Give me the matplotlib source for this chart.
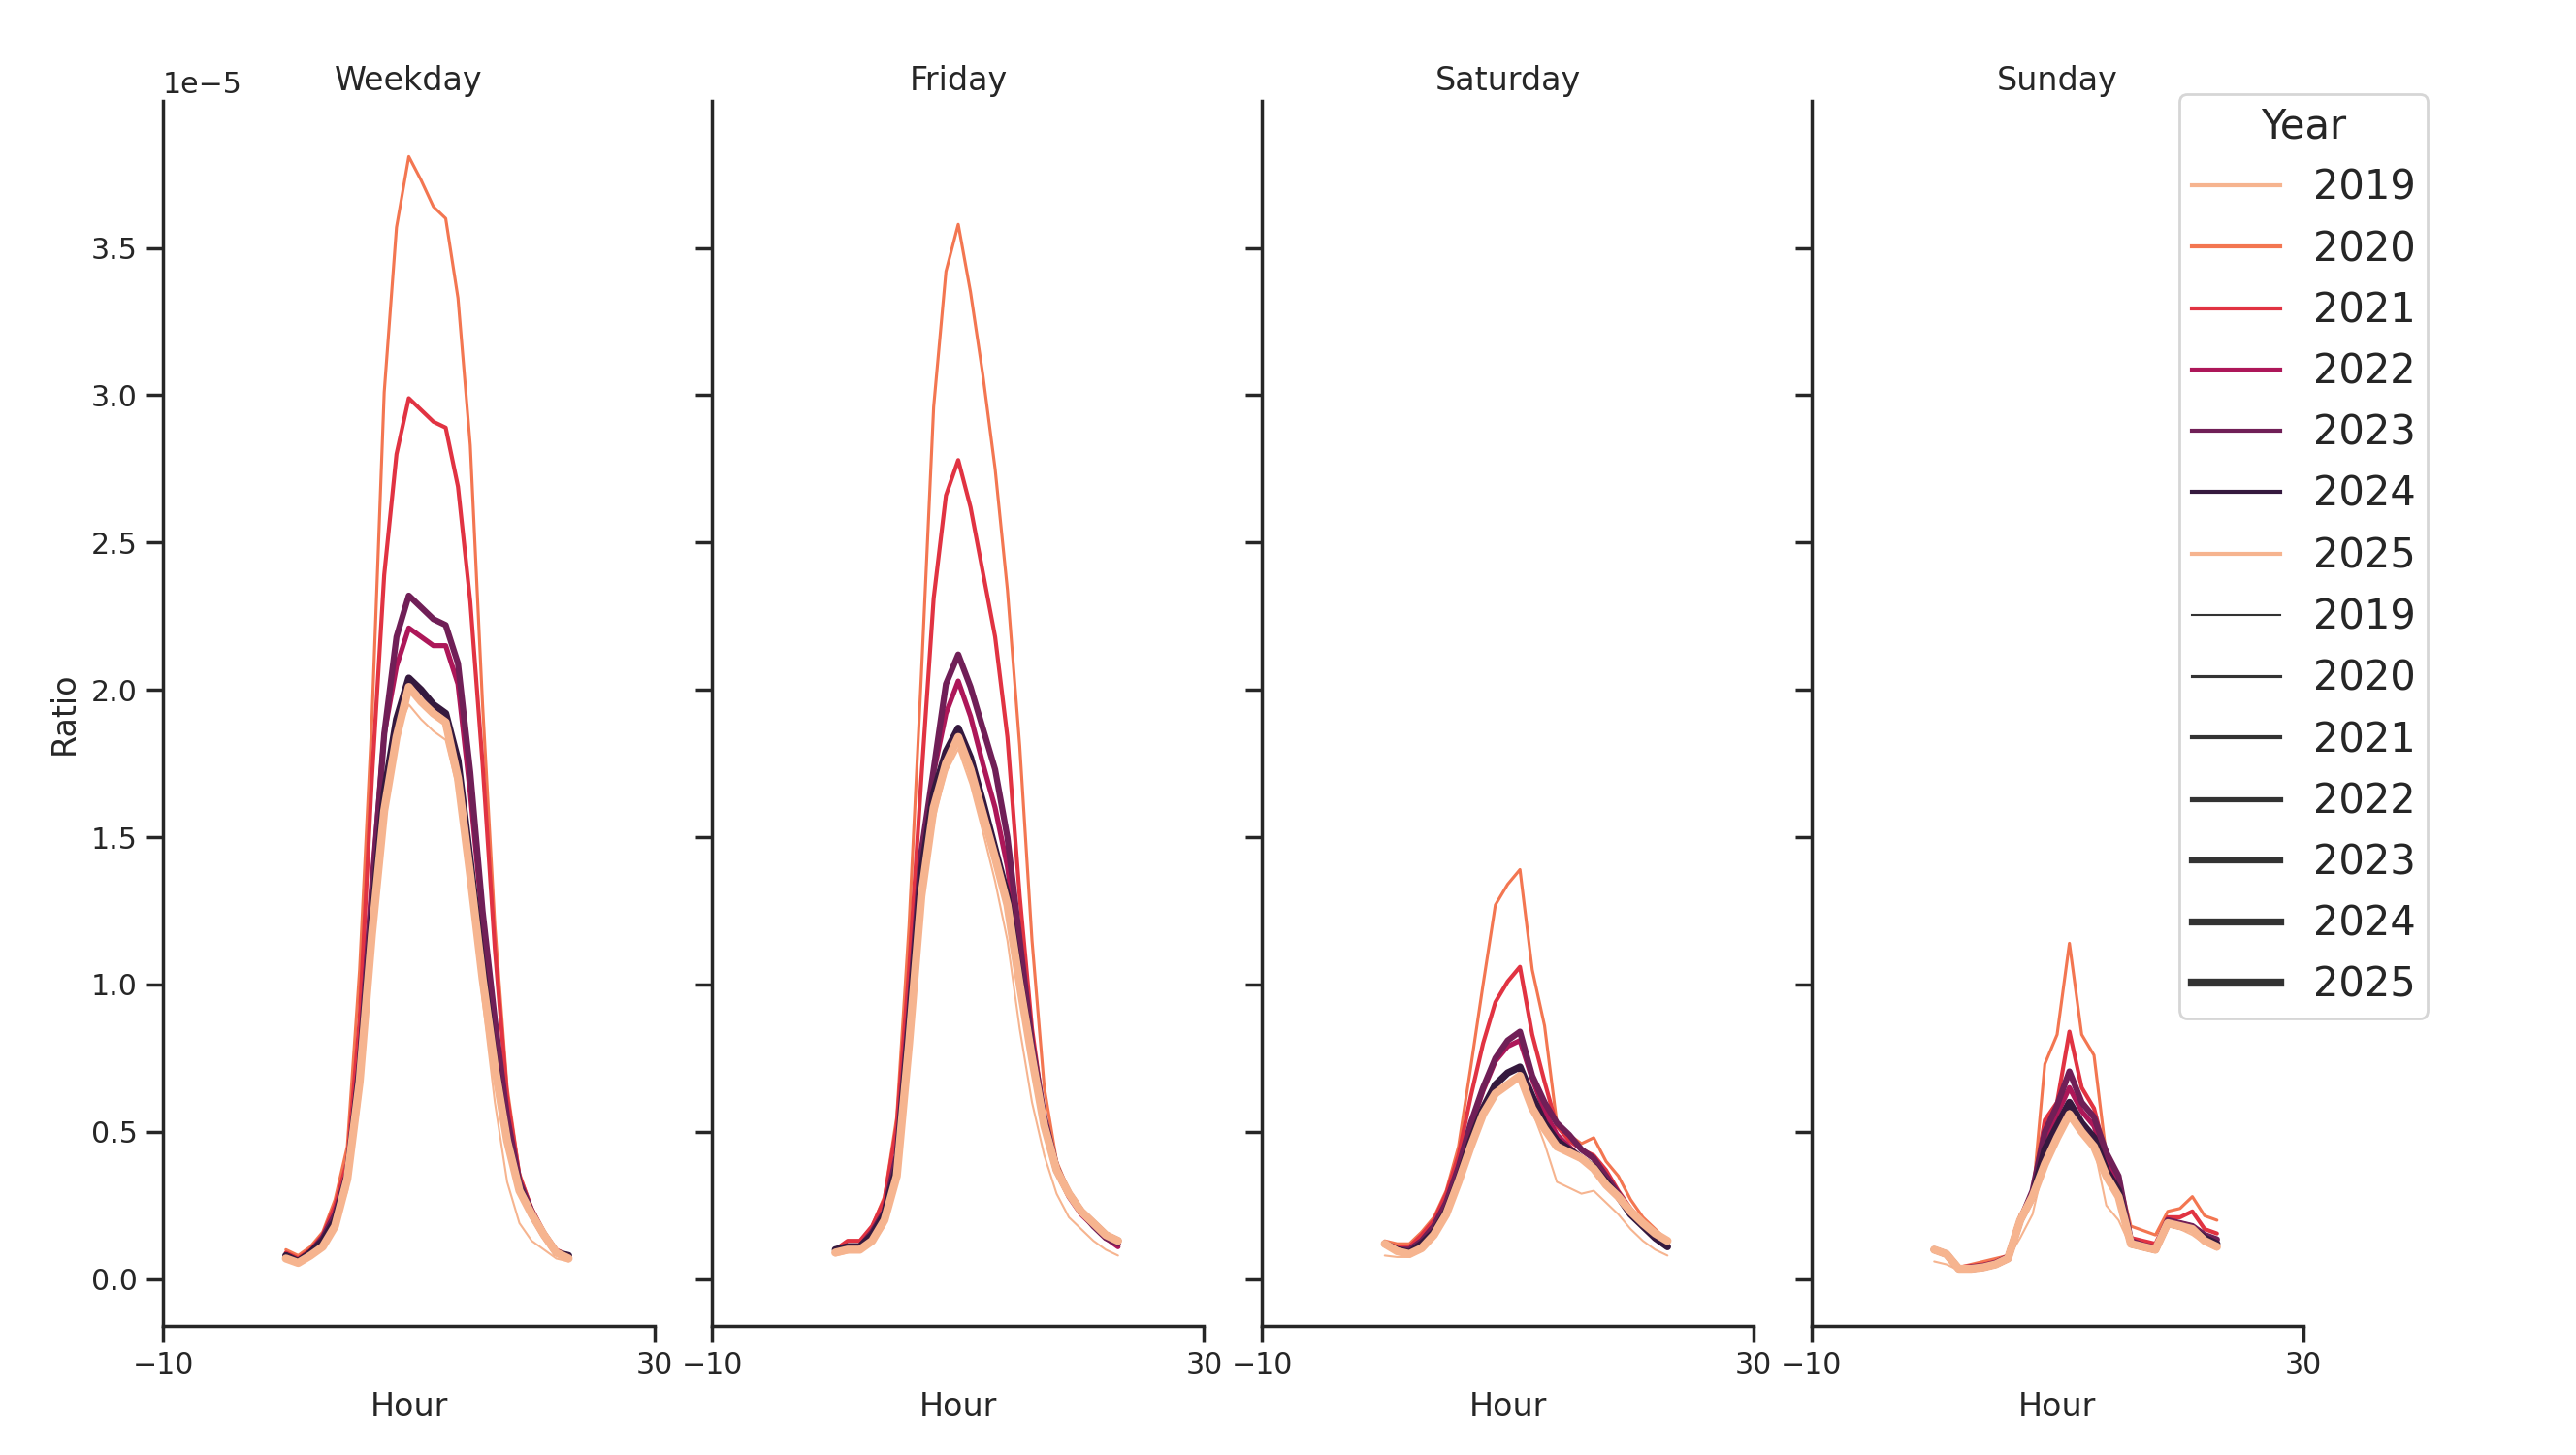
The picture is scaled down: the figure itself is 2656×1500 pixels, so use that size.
import numpy as np
import matplotlib
matplotlib.use("Agg")
import matplotlib.pyplot as plt
from matplotlib.lines import Line2D

# ---------------- data (values in units of 1e-5) ----------------
hours = list(range(24))
years = [2019, 2020, 2021, 2022, 2023, 2024, 2025]
panels = ["Weekday", "Friday", "Saturday", "Sunday"]

weekday_2019 = [0.07,0.05,0.07,0.11,0.18,0.30,0.60,1.10,1.55,1.85,1.95,1.90,1.86,1.83,1.66,1.35,0.95,0.60,0.33,0.19,0.13,0.10,0.07,0.06]
weekday_2020 = [0.10,0.08,0.11,0.16,0.27,0.45,1.05,1.90,3.01,3.57,3.81,3.73,3.64,3.60,3.33,2.83,1.95,1.20,0.65,0.36,0.24,0.16,0.10,0.08]
weekday_2021 = [0.09,0.07,0.10,0.15,0.25,0.40,0.88,1.70,2.39,2.80,2.99,2.95,2.91,2.89,2.69,2.30,1.75,1.12,0.62,0.35,0.24,0.16,0.10,0.08]
weekday_2022 = [0.08,0.06,0.09,0.14,0.22,0.36,0.75,1.35,1.85,2.08,2.21,2.18,2.15,2.15,2.02,1.65,1.22,0.85,0.52,0.32,0.22,0.15,0.09,0.08]
weekday_2023 = [0.08,0.06,0.09,0.14,0.22,0.36,0.73,1.30,1.85,2.18,2.32,2.28,2.24,2.22,2.09,1.72,1.25,0.88,0.55,0.33,0.23,0.15,0.09,0.08]
weekday_2024 = [0.08,0.06,0.09,0.13,0.20,0.35,0.70,1.22,1.65,1.90,2.04,2.00,1.95,1.92,1.76,1.42,1.06,0.74,0.48,0.31,0.22,0.15,0.09,0.08]
weekday_2025 = [0.07,0.055,0.08,0.11,0.18,0.34,0.67,1.17,1.59,1.84,2.01,1.96,1.92,1.89,1.70,1.37,1.02,0.72,0.47,0.30,0.22,0.15,0.09,0.07]

friday_2019 = [0.08,0.09,0.10,0.12,0.18,0.33,0.75,1.25,1.55,1.72,1.80,1.68,1.52,1.35,1.15,0.85,0.60,0.42,0.29,0.21,0.17,0.13,0.10,0.08]
friday_2020 = [0.10,0.13,0.13,0.18,0.28,0.55,1.20,2.05,2.96,3.42,3.58,3.35,3.07,2.75,2.34,1.81,1.15,0.65,0.40,0.30,0.24,0.19,0.15,0.12]
friday_2021 = [0.10,0.13,0.13,0.18,0.27,0.52,1.05,1.70,2.31,2.66,2.78,2.62,2.40,2.18,1.84,1.30,0.85,0.55,0.37,0.29,0.23,0.19,0.15,0.12]
friday_2022 = [0.10,0.11,0.11,0.16,0.23,0.42,0.90,1.45,1.72,1.92,2.03,1.91,1.75,1.60,1.40,1.10,0.78,0.54,0.37,0.28,0.22,0.18,0.14,0.11]
friday_2023 = [0.10,0.11,0.11,0.16,0.23,0.42,0.90,1.45,1.73,2.02,2.12,2.01,1.87,1.73,1.50,1.15,0.80,0.55,0.38,0.29,0.23,0.18,0.14,0.12]
friday_2024 = [0.10,0.11,0.11,0.15,0.22,0.38,0.85,1.38,1.65,1.79,1.87,1.77,1.62,1.46,1.30,1.02,0.76,0.53,0.37,0.29,0.23,0.19,0.15,0.13]
friday_2025 = [0.09,0.10,0.10,0.13,0.20,0.35,0.80,1.30,1.60,1.75,1.84,1.73,1.58,1.43,1.27,1.00,0.75,0.52,0.37,0.29,0.23,0.19,0.15,0.13]

saturday_2019 = [0.08,0.075,0.075,0.10,0.14,0.21,0.33,0.45,0.55,0.62,0.66,0.68,0.57,0.46,0.33,0.31,0.29,0.30,0.26,0.22,0.17,0.13,0.10,0.08]
saturday_2020 = [0.13,0.12,0.12,0.16,0.21,0.30,0.45,0.72,1.00,1.27,1.34,1.39,1.05,0.86,0.53,0.49,0.46,0.48,0.40,0.35,0.27,0.21,0.17,0.13]
saturday_2021 = [0.12,0.11,0.11,0.15,0.20,0.29,0.42,0.62,0.80,0.94,1.01,1.06,0.83,0.67,0.52,0.47,0.44,0.42,0.37,0.30,0.24,0.19,0.15,0.12]
saturday_2022 = [0.12,0.10,0.10,0.13,0.18,0.26,0.38,0.52,0.64,0.74,0.79,0.81,0.68,0.57,0.49,0.45,0.41,0.38,0.33,0.28,0.23,0.18,0.14,0.11]
saturday_2023 = [0.12,0.10,0.10,0.13,0.18,0.26,0.38,0.53,0.65,0.75,0.81,0.84,0.69,0.60,0.53,0.49,0.44,0.41,0.35,0.29,0.23,0.18,0.14,0.11]
saturday_2024 = [0.12,0.10,0.09,0.12,0.16,0.23,0.34,0.47,0.58,0.66,0.70,0.72,0.62,0.53,0.47,0.44,0.41,0.38,0.33,0.28,0.22,0.18,0.14,0.11]
saturday_2025 = [0.12,0.095,0.085,0.105,0.15,0.22,0.33,0.45,0.56,0.63,0.66,0.69,0.58,0.51,0.45,0.43,0.41,0.375,0.32,0.28,0.23,0.19,0.155,0.13]

sunday_2019 = [0.06,0.05,0.03,0.03,0.04,0.05,0.07,0.14,0.22,0.40,0.50,0.58,0.52,0.45,0.25,0.20,0.11,0.10,0.09,0.18,0.17,0.15,0.12,0.10]
sunday_2020 = [0.10,0.085,0.04,0.05,0.06,0.07,0.08,0.22,0.27,0.73,0.83,1.14,0.83,0.76,0.42,0.35,0.18,0.165,0.15,0.23,0.24,0.28,0.215,0.20]
sunday_2021 = [0.10,0.085,0.04,0.045,0.05,0.06,0.08,0.21,0.30,0.54,0.60,0.84,0.65,0.58,0.42,0.33,0.14,0.13,0.12,0.21,0.21,0.23,0.17,0.155]
sunday_2022 = [0.10,0.085,0.035,0.04,0.045,0.055,0.075,0.20,0.29,0.48,0.56,0.65,0.57,0.52,0.40,0.33,0.13,0.115,0.105,0.20,0.19,0.18,0.15,0.13]
sunday_2023 = [0.10,0.085,0.035,0.04,0.045,0.055,0.075,0.20,0.30,0.50,0.59,0.705,0.60,0.55,0.43,0.35,0.13,0.115,0.105,0.20,0.19,0.18,0.15,0.135]
sunday_2024 = [0.10,0.085,0.035,0.035,0.04,0.05,0.07,0.20,0.28,0.44,0.52,0.60,0.53,0.48,0.37,0.30,0.12,0.11,0.10,0.19,0.18,0.17,0.14,0.12]
sunday_2025 = [0.10,0.085,0.035,0.035,0.04,0.05,0.07,0.20,0.28,0.39,0.48,0.56,0.50,0.45,0.35,0.28,0.12,0.11,0.10,0.19,0.18,0.17,0.13,0.11]

panel_data = {
    "Weekday": [weekday_2019, weekday_2020, weekday_2021, weekday_2022, weekday_2023, weekday_2024, weekday_2025],
    "Friday": [friday_2019, friday_2020, friday_2021, friday_2022, friday_2023, friday_2024, friday_2025],
    "Saturday": [saturday_2019, saturday_2020, saturday_2021, saturday_2022, saturday_2023, saturday_2024, saturday_2025],
    "Sunday": [sunday_2019, sunday_2020, sunday_2021, sunday_2022, sunday_2023, sunday_2024, sunday_2025],
}
scale = 1e-5

# ---------------- style ----------------
palette6 = ["#f6b48f", "#f37651", "#e13342", "#ad1759", "#701f57", "#35193e"]
colors = [palette6[i % 6] for i in range(len(years))]
widths = list(np.linspace(0.75, 3.0, len(years)))

dark = "#262626"
plt.rcParams.update({
    "font.family": ["DejaVu Sans"],
    "text.color": dark,
    "axes.labelcolor": dark,
    "axes.edgecolor": dark,
    "axes.linewidth": 1.25,
    "xtick.color": dark,
    "ytick.color": dark,
    "xtick.major.size": 6,
    "ytick.major.size": 6,
    "xtick.major.width": 1.25,
    "ytick.major.width": 1.25,
    "xtick.labelsize": 10.8,
    "ytick.labelsize": 10.8,
    "axes.labelsize": 12,
    "axes.titlesize": 12,
})

W, H = 2656, 1500
fig = plt.figure(figsize=(W / 200, H / 200), dpi=200)
left0 = 168 / W
aw = 507 / W
step = 566.5 / W
bottom = 133 / H
ah = 1263 / H

axes = []
for i, name in enumerate(panels):
    if i == 0:
        ax = fig.add_axes([left0 + i * step, bottom, aw, ah])
    else:
        ax = fig.add_axes([left0 + i * step, bottom, aw, ah], sharey=axes[0])
    axes.append(ax)
    for yr, col, lw, vals in zip(years, colors, widths, panel_data[name]):
        ax.plot(hours, np.array(vals) * scale, color=col, lw=lw, solid_capstyle="round",
                solid_joinstyle="round")
    ax.set_title(name, pad=4)
    ax.set_xlim(-10, 30)
    ax.set_xticks([-10, 30])
    ax.set_xlabel("Hour")
    for s in ("top", "right"):
        ax.spines[s].set_visible(False)
    if i == 0:
        ax.set_ylabel("Ratio")
    else:
        ax.tick_params(labelleft=False)
        ax.yaxis.offsetText.set_visible(False)

# ---------------- legend ----------------
handles = [Line2D([], [], color=c, lw=1.5) for c in colors]
handles += [Line2D([], [], color="#333333", lw=w) for w in widths]
labels = [str(y) for y in years] + [str(y) for y in years]
leg = fig.legend(handles, labels, title="Year", loc="upper right",
                 bbox_to_anchor=(2503 / W, 1 - 97 / H), fontsize=15,
                 title_fontsize=15, handlelength=2.2, labelspacing=0.51,
                 borderpad=0.3, frameon=True, borderaxespad=0.0)
leg.get_frame().set_edgecolor("#cccccc")
leg.get_frame().set_linewidth(1.0)

fig.savefig("out.png", dpi=200)
